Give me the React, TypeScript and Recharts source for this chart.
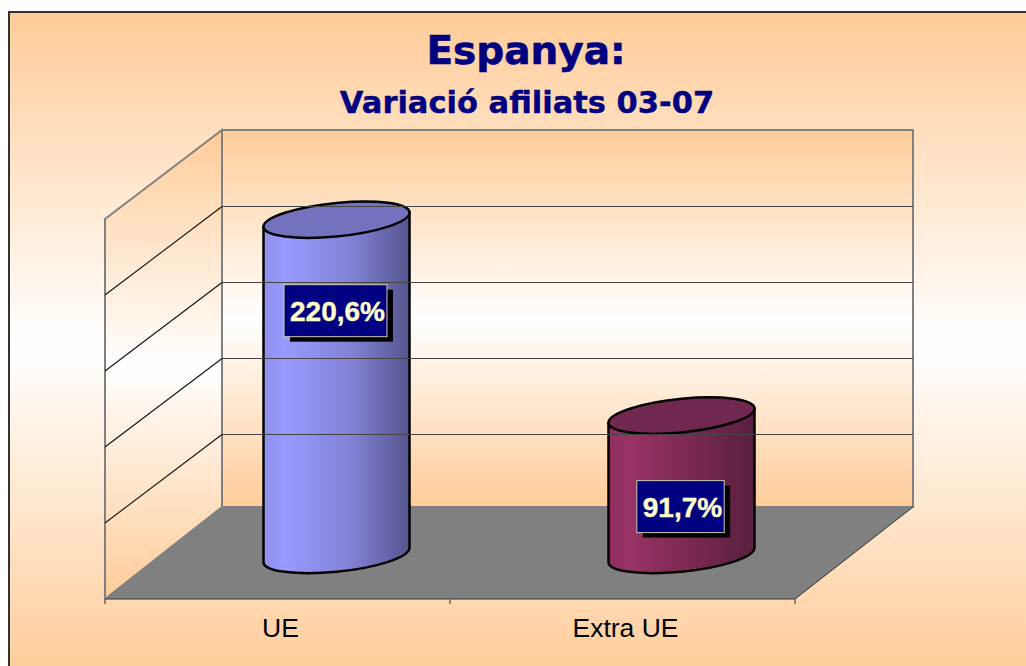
import React from "react";
import { BarChart, Bar, XAxis, YAxis, ReferenceLine, ReferenceArea, LabelList } from "recharts";

const categories = ["UE", "Extra UE"];
const variacio = [220.6, 91.7];
const yTicks = [0, 50, 100, 150, 200, 250];
const titleText = "Espanya:";
const subtitleText = "Variació afiliats 03-07";
const bodyStops = [
  ["#9090EE", "#9999FF", "#8282D6", "#54548E"],
  ["#8F2F60", "#993366", "#78284F", "#58203F"],
];
const capColors = ["#7272BF", "#702850"];

const W = 1026;
const H = 666;
const AXIS_H = 30;
const M = { left: 105, right: 231, top: 219, bottom: 67 - AXIS_H };
const DEPTH_X = 117;
const DEPTH_Y = 89;
const FLOOR_Y = 507;
const BAR_DX = 58.5;
const BAR_DY = 44;
const BAR_W = 146;
const CAP_RY = 16.8;
const SKEW = -5.5;
const PEACH = "#FFCC99";
const FONT = "'Liberation Sans', Arial, sans-serif";
const TITLE_FONT = "'DejaVu Sans', Verdana, sans-serif";

const data = categories.map((name, i) => ({ name, value: variacio[i] }));

function Walls(props: any) {
  const { x, y, width, height } = props;
  const base = y + height;
  const right = x + width;
  const bx = x + DEPTH_X;
  const by = y - DEPTH_Y;
  const n = categories.length;
  return (
    <g>
      <defs>
        <linearGradient id="wallBack" x1="0" y1="0" x2="0" y2="1">
          <stop offset="0" stopColor={PEACH} />
          <stop offset="0.5" stopColor="#FFFFFF" />
          <stop offset="1" stopColor={PEACH} />
        </linearGradient>
      </defs>
      <polygon points={`${x},${y} ${bx},${by} ${bx},${FLOOR_Y} ${x},${base}`} fill="url(#wallBack)" stroke="#808080" strokeWidth={2} />
      <rect x={bx} y={by} width={width + 1} height={FLOOR_Y - by} fill="url(#wallBack)" stroke="#808080" strokeWidth={2} />
      <polygon points={`${x},${base} ${right},${base} ${right + DEPTH_X + 1},${FLOOR_Y} ${bx},${FLOOR_Y}`} fill="#808080" />
      <polyline points={`${x},${base} ${right},${base} ${right + DEPTH_X + 1},${FLOOR_Y}`} fill="none" stroke="#333333" strokeWidth={1} />
      {Array.from({ length: n + 1 }, (_, i) => (
        <line key={i} x1={x + (width * i) / n} x2={x + (width * i) / n} y1={base} y2={base + 5} stroke="#666666" strokeWidth={1.5} />
      ))}
    </g>
  );
}

function GridLine(props: any) {
  const { x1, x2, y1 } = props;
  const yb = Math.round(y1 - DEPTH_Y) + 0.5;
  return (
    <g>
      <line x1={x1} y1={y1} x2={x1 + DEPTH_X} y2={yb} stroke="#111111" strokeWidth={1.1} />
      <line x1={x1 + DEPTH_X} y1={yb} x2={x2 + DEPTH_X + 1} y2={yb} stroke="#444444" strokeWidth={1} />
    </g>
  );
}

function Cylinder(props: any) {
  const { x, y, width, height, index } = props;
  const r = width / 2;
  const cx = x + r + BAR_DX;
  const top = y - BAR_DY;
  const bot = top + height;
  const id = `cyl${index}`;
  const stops = bodyStops[index];
  return (
    <g>
      <defs>
        <linearGradient id={id} x1="0" y1="0" x2="1" y2="0">
          <stop offset="0" stopColor={stops[0]} />
          <stop offset="0.15" stopColor={stops[1]} />
          <stop offset="0.6" stopColor={stops[2]} />
          <stop offset="1" stopColor={stops[3]} />
        </linearGradient>
      </defs>
      <g transform={`translate(${cx},0) skewY(${SKEW})`}>
        <path
          d={`M${-r},${top} L${-r},${bot} A${r},${CAP_RY} 0 0 0 ${r},${bot} L${r},${top} Z`}
          fill={`url(#${id})`}
          stroke="#000"
          strokeWidth={2.5}
        />
        <ellipse cx={0} cy={top} rx={r} ry={CAP_RY} fill={capColors[index]} stroke="#000" strokeWidth={2.5} />
      </g>
    </g>
  );
}

function ValueLabel(props: any) {
  const { x, y, width, value } = props;
  const text = Number(value).toFixed(1).replace(".", ",") + "%";
  const fontSize = 28;
  const digits = text.replace(/[^0-9]/g, "").length;
  const textW = (digits * 0.556 + 0.278 + 0.889) * fontSize;
  const boxW = textW + 8;
  const boxH = 52;
  const cx = x + width / 2 + BAR_DX - 1;
  const cy = y - BAR_DY + 91;
  const left = cx - boxW / 2;
  const topY = cy - boxH / 2;
  return (
    <g>
      <rect x={left + 6} y={topY + 5} width={boxW} height={boxH} fill="#000" />
      <rect x={left} y={topY} width={boxW} height={boxH} fill="#000080" stroke="#CCCCB0" strokeWidth={1} />
      <text x={left + 6} y={cy + 10} fontSize={fontSize} fontWeight="bold" fontFamily={FONT} fill="#FFFFCC" stroke="#FFFFCC" strokeWidth={0.4}>
        {text}
      </text>
    </g>
  );
}

export default function App() {
  return (
    <div style={{ position: "absolute", left: 0, top: 0, width: W, height: H, overflow: "hidden", background: "#fff" }}>
      <div
        style={{
          position: "absolute",
          left: 8,
          top: 11,
          width: W + 20,
          height: H,
          boxSizing: "border-box",
          borderLeft: "2px solid #333",
          borderTop: "2px solid #333",
          background: `linear-gradient(to bottom, ${PEACH} 0%, #FFFFFF 50%, ${PEACH} 100%)`,
        }}
      />
      <div style={{ position: "absolute", left: 0, top: 0 }}>
        <BarChart width={W} height={H} data={data} margin={M} barSize={BAR_W}>
          <XAxis
            dataKey="name"
            height={AXIS_H}
            axisLine={false}
            tickLine={false}
            tick={{ fontSize: 26.5, fill: "#000", fontFamily: FONT, dx: 3 }}
            tickMargin={13}
          />
          <YAxis hide domain={[0, 250]} ticks={yTicks} />
          <ReferenceArea y1={0} y2={250} ifOverflow="visible" shape={<Walls />} />
          {yTicks.slice(1, -1).map((t) => (
            <ReferenceLine key={t} y={t} ifOverflow="visible" shape={<GridLine />} />
          ))}
          <Bar dataKey="value" isAnimationActive={false} shape={<Cylinder />}>
            <LabelList dataKey="value" content={<ValueLabel />} />
          </Bar>
          <text x={526} y={64} textAnchor="middle" fontSize={39} fontWeight="bold" fontFamily={TITLE_FONT} fill="#000080" stroke="#000080" strokeWidth={0.6}>
            {titleText}
          </text>
          <text x={527} y={113} textAnchor="middle" fontSize={30.5} fontWeight="bold" fontFamily={TITLE_FONT} fill="#000080" stroke="#000080" strokeWidth={0.4}>
            {subtitleText}
          </text>
        </BarChart>
      </div>
    </div>
  );
}
